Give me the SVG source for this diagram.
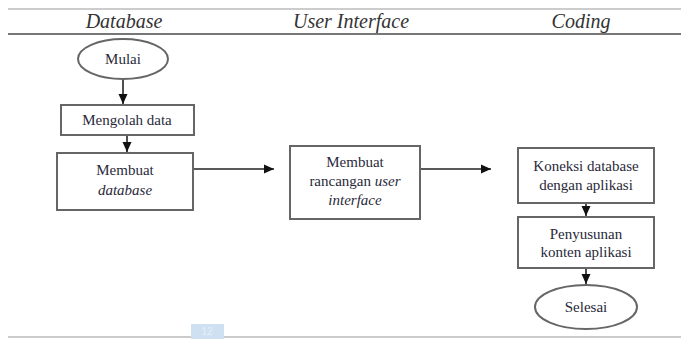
<svg xmlns="http://www.w3.org/2000/svg" width="681" height="339" viewBox="0 0 681 339">
<defs>
<marker id="arr" viewBox="0 0 10 10" refX="10" refY="5" markerWidth="10" markerHeight="10" markerUnits="userSpaceOnUse" orient="auto">
<path d="M0,0.5 L10,5 L0,9.5 Z" fill="#111"/>
</marker>
<style>
.hdr{font-style:italic;font-size:20px;fill:#333;text-anchor:middle}
.t{font-size:15px;fill:#2a2a3a;text-anchor:middle}
.i{font-style:italic}
.box{fill:#fff;stroke:#666;stroke-width:2}
.con{stroke:#222;stroke-width:1.6;fill:none;marker-end:url(#arr)}
.rule{stroke:#999;stroke-width:1.2}
</style>
</defs>
<rect width="681" height="339" fill="#fff"/>
<g font-family="Liberation Serif, Times New Roman, serif">
<g id="table">
<line class="rule" x1="8" y1="9" x2="681" y2="9"/>
<line x1="8" y1="34" x2="681" y2="34" stroke="#777" stroke-width="2.2"/>
<line class="rule" x1="8" y1="337" x2="681" y2="337"/>
<rect x="191" y="324" width="33" height="15" fill="#cfe0f2"/>
<text x="207" y="335" font-family="Liberation Sans, sans-serif" font-size="10" fill="#e6eef8" text-anchor="middle">12</text>
<text class="hdr" x="124" y="28">Database</text>
<text class="hdr" x="351" y="28">User Interface</text>
<text class="hdr" x="581" y="28">Coding</text>
</g>
<g id="connectors">
<line class="con" x1="123" y1="79" x2="123" y2="104"/>
<line class="con" x1="127" y1="135" x2="127" y2="152"/>
<line class="con" x1="193" y1="169" x2="274" y2="169"/>
<line class="con" x1="420" y1="169" x2="491" y2="169"/>
<line class="con" x1="586" y1="203" x2="586" y2="216"/>
<line class="con" x1="586" y1="268" x2="586" y2="284"/>
</g>
<g id="mulai">
<ellipse class="box" cx="123" cy="59" rx="45" ry="20"/>
<text class="t" x="123" y="64">Mulai</text>
</g>
<g id="mengolah">
<rect class="box" x="61" y="105" width="133" height="30"/>
<text class="t" x="127" y="125">Mengolah data</text>
</g>
<g id="membuat-db">
<rect class="box" x="57" y="153" width="136" height="57"/>
<text class="t" x="125" y="175">Membuat</text>
<text class="t i" x="125" y="195">database</text>
</g>
<g id="membuat-ui">
<rect class="box" x="290" y="146" width="130" height="73"/>
<text class="t" x="355" y="167">Membuat</text>
<text class="t" x="355" y="186">rancangan <tspan class="i">user</tspan></text>
<text class="t i" x="355" y="205">interface</text>
</g>
<g id="koneksi">
<rect class="box" x="518" y="148" width="136" height="55"/>
<text class="t" x="586" y="171">Koneksi database</text>
<text class="t" x="586" y="190">dengan aplikasi</text>
</g>
<g id="penyusunan">
<rect class="box" x="518" y="217" width="136" height="51"/>
<text class="t" x="586" y="239">Penyusunan</text>
<text class="t" x="586" y="257">konten aplikasi</text>
</g>
<g id="selesai">
<ellipse class="box" cx="586" cy="307" rx="51" ry="22"/>
<text class="t" x="586" y="312">Selesai</text>
</g>
</g>
</svg>
